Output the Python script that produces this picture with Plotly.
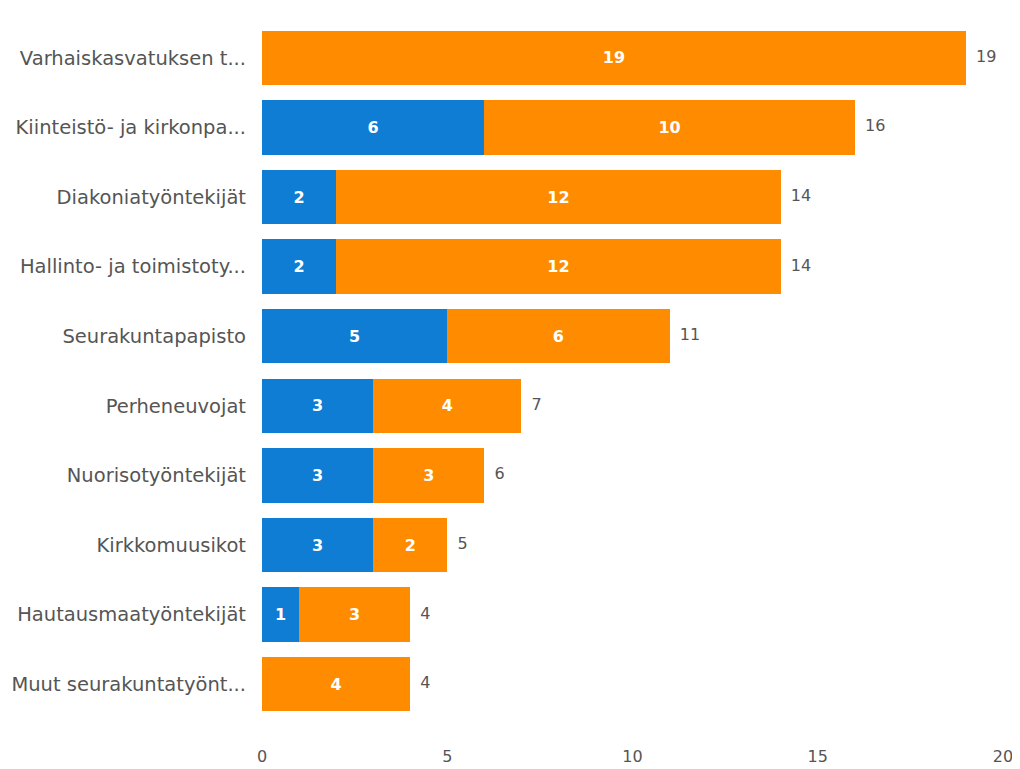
import plotly.graph_objects as go

categories = ["Varhaiskasvatuksen t...", "Kiinteistö- ja kirkonpa...", "Diakoniatyöntekijät",
              "Hallinto- ja toimistoty...", "Seurakuntapapisto", "Perheneuvojat",
              "Nuorisotyöntekijät", "Kirkkomuusikot", "Hautausmaatyöntekijät",
              "Muut seurakuntatyönt..."]
blue_values = [0, 6, 2, 2, 5, 3, 3, 3, 1, 0]
orange_values = [19, 10, 12, 12, 6, 4, 3, 2, 3, 4]
x_ticks = [0, 5, 10, 15, 20]

totals = [b + o for b, o in zip(blue_values, orange_values)]

BLUE = "#0F7DD3"
ORANGE = "#FF8C00"
FONT = "DejaVu Sans"

fig = go.Figure()
fig.add_trace(go.Bar(
    y=categories, x=blue_values, orientation="h", marker=dict(color=BLUE, line=dict(width=0)),
    text=[f"<b>{v}</b>" if v else "" for v in blue_values], textposition="inside",
    insidetextanchor="middle", textfont=dict(color="white", size=16, family=FONT),
    hoverinfo="skip", name="blue"))
fig.add_trace(go.Bar(
    y=categories, x=orange_values, orientation="h", marker=dict(color=ORANGE, line=dict(width=0)),
    text=[f"<b>{v}</b>" if v else "" for v in orange_values], textposition="inside",
    insidetextanchor="middle", textfont=dict(color="white", size=16, family=FONT),
    hoverinfo="skip", name="orange"))
fig.add_trace(go.Scatter(
    y=categories, x=totals, mode="text", text=[f"  {t}" for t in totals],
    textposition="middle right", textfont=dict(color="#555555", size=16, family=FONT),
    hoverinfo="skip", cliponaxis=False))

fig.update_layout(
    width=1012, height=761, barmode="stack", bargap=0.22, showlegend=False,
    plot_bgcolor="white", paper_bgcolor="white",
    margin=dict(l=254, r=17, t=15, b=50),
    font=dict(family=FONT, color="#555555"),
    uniformtext=dict(mode="show", minsize=10),
)
fig.update_xaxes(range=[0, 20], tickvals=x_ticks, showgrid=False, zeroline=False,
                 showline=False, ticks="", tickfont=dict(size=16, color="#555555"),
                 ticklabelstandoff=26, automargin=False)
fig.update_yaxes(categoryorder="array", categoryarray=categories, autorange="reversed",
                 showgrid=False, zeroline=False, showline=False, ticks="",
                 tickfont=dict(size=19.5, color="#555555"), ticklabelstandoff=15, automargin=False)

fig.write_html("out.html")
